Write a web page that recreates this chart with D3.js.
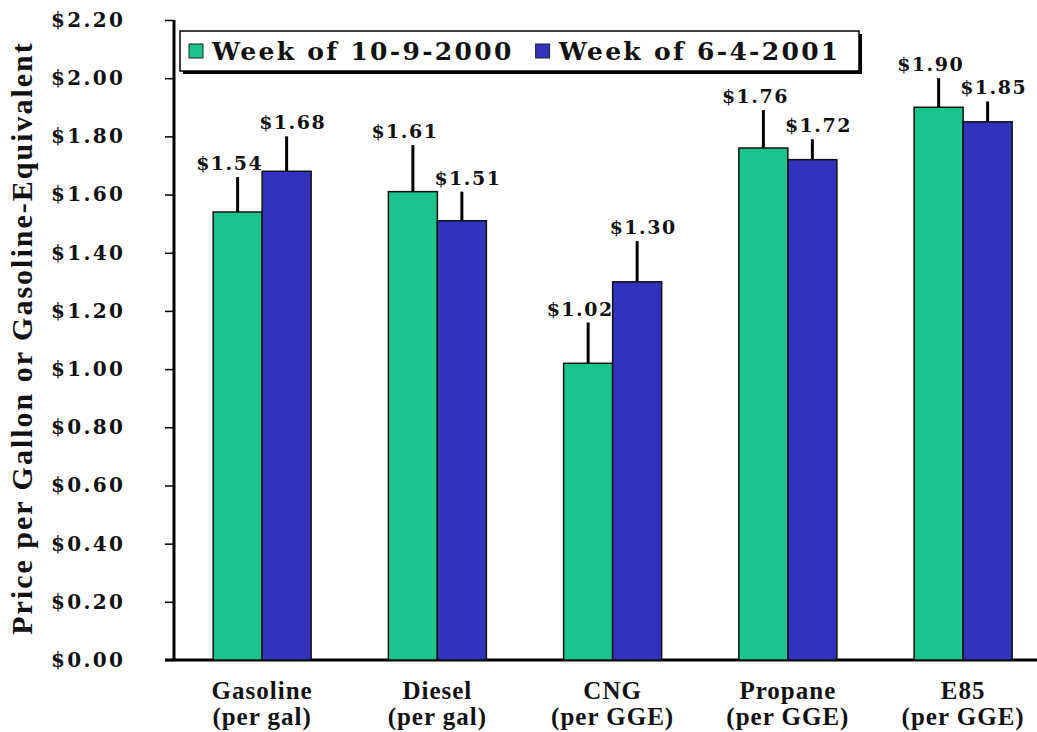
<!DOCTYPE html>
<html>
<head>
<meta charset="utf-8">
<script src="https://cdn.jsdelivr.net/npm/d3@7"></script>
<style>
  body { margin: 0; background: #fff; }
  .tick text { font-family: "DejaVu Serif", serif; font-weight: bold; }
</style>
</head>
<body>
<div id="chart"></div>
<script>
var categories = ["Gasoline", "Diesel", "CNG", "Propane", "E85"];
var units = ["(per gal)", "(per gal)", "(per GGE)", "(per GGE)", "(per GGE)"];
var seriesNames = ["Week of 10-9-2000", "Week of 6-4-2001"];
var week2000 = [1.54, 1.61, 1.02, 1.76, 1.90];
var week2001 = [1.68, 1.51, 1.30, 1.72, 1.85];
// top of the range line drawn above each bar
var high2000 = [1.66, 1.77, 1.16, 1.89, 2.00];
var high2001 = [1.80, 1.61, 1.44, 1.79, 1.92];
var yTicks = [0, 0.2, 0.4, 0.6, 0.8, 1.0, 1.2, 1.4, 1.6, 1.8, 2.0, 2.2];
var colors = ["#1cc48d", "#3232bd"];

var width = 1037, height = 732;

var svg = d3.select("#chart").append("svg")
    .attr("width", width)
    .attr("height", height);

var x0 = d3.scalePoint()
    .domain(categories)
    .range([174.5, 1050.75])
    .padding(0.5);

var x1 = d3.scaleBand()
    .domain([0, 1])
    .range([-49, 49]);

var y = d3.scaleLinear()
    .domain([0, 2.2])
    .range([660, 20]);

var fmt = function(d) { return "$" + d3.format(".2f")(d); };

// y axis
var yAxis = svg.append("g")
    .attr("transform", "translate(174,0)")
    .call(d3.axisLeft(y).tickValues(yTicks).tickFormat(fmt).tickSize(9));
yAxis.select(".domain").attr("stroke-width", 3).attr("d", "M0,20V660");
yAxis.selectAll(".tick line").attr("stroke-width", 1.5);
yAxis.selectAll(".tick text")
    .attr("font-size", 20)
    .attr("letter-spacing", 2.3)
    .attr("fill", "#111")
    .attr("text-anchor", "start")
    .attr("x", -123);

// x axis line
svg.append("line")
    .attr("x1", 165).attr("x2", width)
    .attr("y1", y(0)).attr("y2", y(0))
    .attr("stroke", "#000")
    .attr("stroke-width", 3);

var rows = categories.map(function(c, i) {
    return {
        cat: c,
        vals: [
            { s: 0, v: week2000[i], hi: high2000[i] },
            { s: 1, v: week2001[i], hi: high2001[i] }
        ]
    };
});

var groups = svg.append("g").selectAll("g")
    .data(rows)
    .join("g")
    .attr("transform", function(d) { return "translate(" + x0(d.cat) + ",0)"; });

// range lines first so bars cover the bottom
groups.selectAll("line.hi")
    .data(function(d) { return d.vals; })
    .join("line")
    .attr("class", "hi")
    .attr("x1", function(d) { return x1(d.s) + x1.bandwidth() / 2; })
    .attr("x2", function(d) { return x1(d.s) + x1.bandwidth() / 2; })
    .attr("y1", function(d) { return y(d.v); })
    .attr("y2", function(d) { return y(d.hi); })
    .attr("stroke", "#000")
    .attr("stroke-width", 3);

groups.selectAll("rect")
    .data(function(d) { return d.vals; })
    .join("rect")
    .attr("x", function(d) { return x1(d.s); })
    .attr("width", x1.bandwidth())
    .attr("y", function(d) { return y(d.v); })
    .attr("height", function(d) { return y(0) - y(d.v); })
    .attr("fill", function(d) { return colors[d.s]; })
    .attr("stroke", "#111")
    .attr("stroke-width", 1.5);

groups.selectAll("text.val")
    .data(function(d) { return d.vals; })
    .join("text")
    .attr("class", "val")
    .attr("x", function(d) { return x1(d.s) + x1.bandwidth() / 2 + (d.s ? 6 : -8); })
    .attr("y", function(d) { return y(d.hi) - 7; })
    .attr("text-anchor", "middle")
    .attr("font-family", "DejaVu Serif, serif")
    .attr("font-weight", "bold")
    .attr("font-size", 19)
    .attr("letter-spacing", 1.5)
    .attr("fill", "#111")
    .text(function(d) { return fmt(d.v); });

// category labels
var catLabels = svg.append("g").selectAll("text")
    .data(categories)
    .join("text")
    .attr("x", function(d) { return x0(d); })
    .attr("text-anchor", "middle")
    .attr("font-family", "Liberation Serif, serif")
    .attr("font-weight", "bold")
    .attr("font-size", 25)
    .attr("letter-spacing", 1)
    .attr("fill", "#111");
catLabels.append("tspan")
    .attr("x", function(d) { return x0(d); })
    .attr("y", 699)
    .text(function(d) { return d; });
catLabels.append("tspan")
    .attr("x", function(d) { return x0(d); })
    .attr("y", 725)
    .text(function(d, i) { return units[i]; });

// y title
svg.append("text")
    .attr("transform", "translate(32,338) rotate(-90)")
    .attr("text-anchor", "middle")
    .attr("font-family", "Liberation Serif, serif")
    .attr("font-weight", "bold")
    .attr("font-size", 30)
    .attr("letter-spacing", 2)
    .attr("fill", "#111")
    .text("Price per Gallon or Gasoline-Equivalent");

// legend
var legend = svg.append("g");
legend.append("rect")
    .attr("x", 183).attr("y", 34)
    .attr("width", 679).attr("height", 40)
    .attr("fill", "#000");
legend.append("rect")
    .attr("x", 180).attr("y", 31)
    .attr("width", 679).attr("height", 40)
    .attr("fill", "#fff")
    .attr("stroke", "#000")
    .attr("stroke-width", 1.5);

var lx = 189;
seriesNames.forEach(function(name, i) {
    legend.append("rect")
        .attr("x", lx).attr("y", 44)
        .attr("width", 14).attr("height", 14)
        .attr("fill", colors[i])
        .attr("stroke", "#222")
        .attr("stroke-width", 1);
    var t = legend.append("text")
        .attr("x", lx + 23).attr("y", 60)
        .attr("font-family", "DejaVu Serif, serif")
        .attr("font-weight", "bold")
        .attr("font-size", 25)
        .attr("letter-spacing", 2.3)
        .attr("fill", "#111")
        .text(name);
    lx = lx + 23 + t.node().getComputedTextLength() + 22;
});
</script>
</body>
</html>
